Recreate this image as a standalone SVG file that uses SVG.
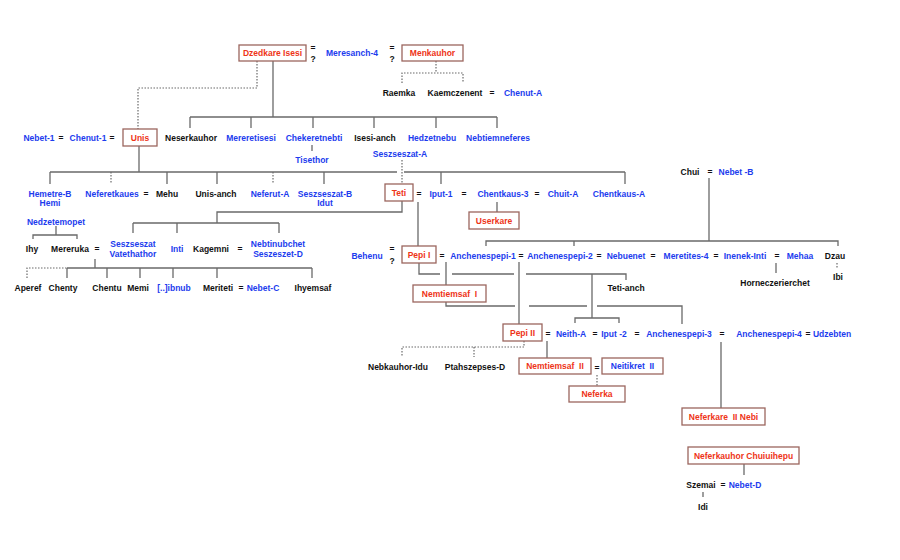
<svg xmlns="http://www.w3.org/2000/svg" width="900" height="560" viewBox="0 0 900 560">
<style>
text{font-family:"Liberation Sans",Arial,sans-serif;font-size:8.5px;font-weight:bold;text-anchor:middle;white-space:pre}
.r{fill:#ee3418}
.b{fill:#1c3cee}
.k{fill:#111}
.box{fill:#fff;stroke:#9b665e;stroke-width:1.3}
.ln{fill:none;stroke:#6a6a6a;stroke-width:1.3}
.dt{fill:none;stroke:#6a6a6a;stroke-width:1.2;stroke-dasharray:1.5 1.5}
</style>
<rect width="900" height="560" fill="#fff"/>
<g id="connectors">
<path class="ln" d="M273 61V117M190 117H497M190 117V128M251 117V128M313 117V128M374 117V128M436 117V128M497 117V128"/>
<path class="ln" d="M312 145V151"/>
<path class="ln" d="M139 146V172M50 172H397M404 172H625M50 172V184M167 172V184M217 172V184M324 172V184M441 172V184M625 172V184"/>
<path class="dt" d="M111 172V184M273 172V184"/>
<path class="ln" d="M497 202V212M418 202V246"/>
<path class="ln" d="M402 201V212H217V223M133 223H279M133 223V233M177 223V233M279 223V233"/>
<path class="ln" d="M56 226V235M33 239V235H77V239"/>
<path class="ln" d="M95 259V268M67 268H312M67 268V278M107 268V278M140 268V278M173 268V278M217 268V278M312 268V278"/>
<path class="dt" d="M27 278V268H67"/>
<path class="ln" d="M709 178V241M486 246V241H838V246M574 241V246"/>
<path class="dt" d="M837 263V269"/>
<path class="ln" d="M776 263V273"/>
<path class="ln" d="M419 263V274H440M452 274H514M526 274H626V280"/>
<path class="ln" d="M446 262V285M519 262V324M592 274V318M575 323V318H619V323"/>
<path class="ln" d="M446 302V306H515M529 306H587M597 306H682V324"/>
<path class="ln" d="M721 342V408M547 341V358M744 464V475M703 492V497"/>
<path class="dt" d="M257 61V88H138V129"/>
<path class="dt" d="M436 61V73M402 83V73H463V83"/>
<path class="dt" d="M402 160V184"/>
<path class="dt" d="M524 341V347H402V357M474 347V357"/>
<path class="dt" d="M597 375V386"/>
</g>
<g id="n-dzedkare"><rect class="box" x="239" y="45" width="67" height="16"/><text class="r" x="272.5" y="56">Dzedkare Isesi</text></g>
<g id="n-menkauhor"><rect class="box" x="402" y="45" width="61" height="16"/><text class="r" x="432.5" y="56">Menkauhor</text></g>
<g id="n-unis"><rect class="box" x="123" y="129" width="34" height="17"/><text class="r" x="140" y="141">Unis</text></g>
<g id="n-teti"><rect class="box" x="385" y="184" width="28" height="17"/><text class="r" x="399" y="196">Teti</text></g>
<g id="n-userkare"><rect class="box" x="469" y="212" width="50" height="17"/><text class="r" x="494" y="224">Userkare</text></g>
<g id="n-pepi1"><rect class="box" x="402" y="246" width="34" height="17"/><text class="r" x="419" y="258">Pepi I</text></g>
<g id="n-nemtiemsaf1"><rect class="box" x="413" y="285" width="73" height="17"/><text class="r" x="449.5" y="297">Nemtiemsaf  I</text></g>
<g id="n-pepi2"><rect class="box" x="503" y="324" width="39" height="17"/><text class="r" x="522.5" y="336">Pepi II</text></g>
<g id="n-nemtiemsaf2"><rect class="box" x="519" y="358" width="72" height="16"/><text class="r" x="555" y="369">Nemtiemsaf  II</text></g>
<g id="n-neitikret2"><rect class="box" x="602" y="358" width="61" height="16"/><text class="b" x="632.5" y="369">Neitikret  II</text></g>
<g id="n-neferka"><rect class="box" x="569" y="386" width="56" height="16"/><text class="r" x="597" y="397">Neferka</text></g>
<g id="n-neferkare2"><rect class="box" x="682" y="408" width="83" height="17"/><text class="r" x="723.5" y="420">Neferkare  II Nebi</text></g>
<g id="n-neferkauhor"><rect class="box" x="688" y="447" width="111" height="17"/><text class="r" x="743.5" y="459">Neferkauhor Chuiuihepu</text></g>
<g id="labels">
<text class="k" x="313" y="51">=</text><text class="k" x="313" y="62">?</text>
<text class="b" x="352" y="56">Meresanch-4</text>
<text class="k" x="392" y="51">=</text><text class="k" x="392" y="62">?</text>
<text class="k" x="399" y="96">Raemka</text><text class="k" x="455" y="96">Kaemczenent</text><text class="k" x="492" y="96">=</text><text class="b" x="523" y="96">Chenut-A</text>
<text class="b" x="39" y="141">Nebet-1</text><text class="k" x="61" y="141">=</text><text class="b" x="88" y="141">Chenut-1</text><text class="k" x="112" y="141">=</text>
<text class="k" x="191" y="141">Neserkauhor</text><text class="b" x="251" y="141">Mereretisesi</text><text class="b" x="314" y="141">Chekeretnebti</text><text class="k" x="375" y="141">Isesi-anch</text><text class="b" x="432" y="141">Hedzetnebu</text><text class="b" x="498" y="141">Nebtiemneferes</text>
<text class="b" x="312" y="163">Tisethor</text><text class="b" x="400" y="157">Seszseszat-A</text>
<text class="b" x="50" y="197">Hemetre-B</text><text class="b" x="50" y="206">Hemi</text>
<text class="b" x="112" y="197">Neferetkaues</text><text class="k" x="146" y="197">=</text><text class="k" x="167" y="197">Mehu</text><text class="k" x="216" y="197">Unis-anch</text><text class="b" x="270" y="197">Neferut-A</text>
<text class="b" x="325" y="197">Seszseszat-B</text><text class="b" x="325" y="206">Idut</text>
<text class="k" x="419" y="197">=</text><text class="b" x="441" y="197">Iput-1</text><text class="k" x="464" y="197">=</text><text class="b" x="503" y="197">Chentkaus-3</text><text class="k" x="537" y="197">=</text><text class="b" x="563" y="197">Chuit-A</text><text class="b" x="619" y="197">Chentkaus-A</text>
<text class="k" x="690" y="175">Chui</text><text class="k" x="710" y="175">=</text><text class="b" x="736" y="175">Nebet -B</text>
<text class="b" x="56" y="225">Nedzetemopet</text>
<text class="k" x="32" y="252">Ihy</text><text class="k" x="70" y="252">Mereruka</text><text class="k" x="97" y="252">=</text>
<text class="b" x="133" y="247">Seszseszat</text><text class="b" x="133" y="257">Vatethathor</text>
<text class="b" x="177" y="252">Inti</text><text class="k" x="211" y="252">Kagemni</text><text class="k" x="240" y="252">=</text>
<text class="b" x="278" y="247">Nebtinubchet</text><text class="b" x="278" y="257">Seszeszet-D</text>
<text class="k" x="28" y="291">Aperef</text><text class="k" x="63" y="291">Chenty</text><text class="k" x="107" y="291">Chentu</text><text class="k" x="138" y="291">Memi</text><text class="b" x="174" y="291">[..]ibnub</text><text class="k" x="218" y="291">Meriteti</text><text class="k" x="241" y="291">=</text><text class="b" x="263" y="291">Nebet-C</text><text class="k" x="313" y="291">Ihyemsaf</text>
<text class="b" x="367" y="259">Behenu</text><text class="k" x="392" y="252">=</text><text class="k" x="392" y="264">?</text>
<text class="k" x="442" y="259">=</text><text class="b" x="483" y="259">Anchenespepi-1</text><text class="k" x="521" y="259">=</text><text class="b" x="560" y="259">Anchenespepi-2</text><text class="k" x="599" y="259">=</text><text class="b" x="626" y="259">Nebuenet</text><text class="k" x="653" y="259">=</text><text class="b" x="686" y="259">Meretites-4</text><text class="k" x="716" y="259">=</text><text class="b" x="745" y="259">Inenek-Inti</text><text class="k" x="777" y="259">=</text><text class="b" x="800" y="259">Mehaa</text><text class="k" x="835" y="259">Dzau</text>
<text class="k" x="626" y="291">Teti-anch</text><text class="k" x="775" y="286">Horneczerierchet</text><text class="k" x="838" y="280">Ibi</text>
<text class="k" x="548" y="337">=</text><text class="b" x="571" y="337">Neith-A</text><text class="k" x="595" y="337">=</text><text class="b" x="614" y="337">Iput -2</text><text class="k" x="637" y="337">=</text><text class="b" x="679" y="337">Anchenespepi-3</text><text class="k" x="722" y="337">=</text><text class="b" x="769" y="337">Anchenespepi-4</text><text class="k" x="808" y="337">=</text><text class="b" x="832" y="337">Udzebten</text>
<text class="k" x="398" y="370">Nebkauhor-Idu</text><text class="k" x="475" y="370">Ptahszepses-D</text>
<text class="k" x="597" y="371">=</text>
<text class="k" x="701" y="488">Szemai</text><text class="k" x="723" y="488">=</text><text class="b" x="745" y="488">Nebet-D</text>
<text class="k" x="703" y="510">Idi</text>
</g>
</svg>
